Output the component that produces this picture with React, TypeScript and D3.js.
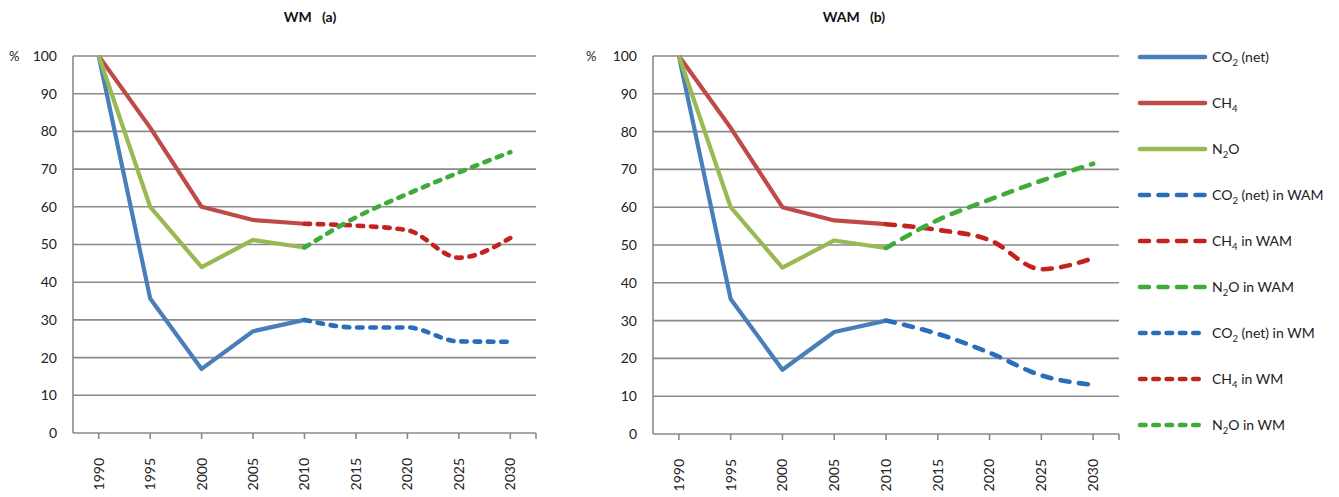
import React from "react";
import * as d3 from "d3";

// Category axis
const years = ["1990", "1995", "2000", "2005", "2010", "2015", "2020", "2025", "2030"];
const histYears = ["1990", "1995", "2000", "2005", "2010"];
const projYears = ["2010", "2015", "2020", "2025", "2030"];
const yTicks = [0, 10, 20, 30, 40, 50, 60, 70, 80, 90, 100];

// Historical emissions, % of 1990
const co2Hist = [100, 35.7, 17, 27, 30];
const ch4Hist = [100, 81, 60, 56.5, 55.5];
const n2oHist = [100, 60, 44, 51.2, 49.2];

// Projections "with measures"
const co2WM = [30, 28, 28, 24.3, 24.2];
const ch4WM = [55.5, 55, 53.8, 46.5, 51.7];
const n2oWM = [49.2, 57.2, 63.4, 69.1, 74.5];

// Projections "with additional measures"
const co2WAM = [30, 26.5, 21.5, 15.5, 13];
const ch4WAM = [55.5, 54, 51.3, 43.6, 46.5];
const n2oWAM = [49.2, 56.6, 62, 67, 71.5];

const FONT = "Lato, 'Open Sans', sans-serif";
const GRID = "#8a8a8a";

const C = {
  co2: "#4a7ebb",
  ch4: "#be4b48",
  n2o: "#98b954",
  co2p: "#2a6ebb",
  ch4p: "#c4221f",
  n2op: "#3fab3b",
};

const DASH_WAM = "9 9.5";
const DASH_WM = "5.5 7.8";

type Series = { years: string[]; values: number[]; color: string; dash?: string; smooth?: boolean };

type PanelProps = {
  x0: number;
  x1: number;
  yTop: number;
  yBottom: number;
  title: string;
  titleX: number;
  pctX: number;
  series: Series[];
};

function Panel({ x0, x1, yTop, yBottom, title, titleX, pctX, series }: PanelProps) {
  const x = d3.scalePoint<string>().domain(years).range([x0, x1]).padding(0.5);
  const y = d3.scaleLinear().domain([0, 100]).range([yBottom, yTop]);
  const tickXs = [...years.map((d) => x(d) as number), x1];

  return (
    <g>
      <text x={titleX} y={22} textAnchor="middle" fontFamily={FONT} fontWeight="bold" fontSize={14} fill="#111" style={{ whiteSpace: "pre" }}>
        {title}
      </text>
      {yTicks.map((t) => (
        <line key={"g" + t} x1={x0} x2={x1} y1={y(t)} y2={y(t)} stroke={GRID} strokeWidth={1.6} />
      ))}
      <line x1={x0} x2={x0} y1={yTop} y2={yBottom} stroke={GRID} strokeWidth={1.6} />
      {tickXs.map((tx, i) => (
        <line key={"t" + i} x1={tx} x2={tx} y1={yBottom} y2={yBottom + 6} stroke={GRID} strokeWidth={1.6} />
      ))}
      {yTicks.map((t) => (
        <text key={"l" + t} x={x0 - 16} y={y(t)} dy="0.35em" textAnchor="end" fontFamily={FONT} fontSize={14} fill="#222">
          {t}
        </text>
      ))}
      <text x={pctX} y={y(100)} dy="0.35em" fontFamily={FONT} fontSize={13} fill="#222">
        %
      </text>
      {years.map((yr) => (
        <text
          key={"y" + yr}
          transform={`translate(${x(yr)},${yBottom + 25}) rotate(-90)`}
          dy="0.35em"
          textAnchor="end"
          fontFamily={FONT}
          fontSize={14}
          fill="#222"
        >
          {yr}
        </text>
      ))}
      {series.map((s, i) => {
        const pts = s.years.map((yr, j) => [x(yr) as number, y(s.values[j])] as [number, number]);
        const gen = d3
          .line<[number, number]>()
          .x((p) => p[0])
          .y((p) => p[1])
          .curve(s.smooth ? d3.curveMonotoneX : d3.curveLinear);
        return (
          <path
            key={"s" + i}
            d={gen(pts) || ""}
            fill="none"
            stroke={s.color}
            strokeWidth={s.dash ? 4.6 : 4.2}
            strokeDasharray={s.dash}
            strokeLinecap={s.dash ? "round" : "butt"}
            strokeLinejoin="round"
          />
        );
      })}
    </g>
  );
}

type LegendItem = { label: React.ReactNode; color: string; dash?: string };

const sub = (s: string) => (
  <tspan fontSize={9.5} dy={4}>
    {s}
  </tspan>
);
const up = (t: string) => <tspan dy={-4}>{t}</tspan>;

const legendItems: LegendItem[] = [
  { label: <>CO{sub("2")}{up(" (net)")}</>, color: C.co2 },
  { label: <>CH{sub("4")}</>, color: C.ch4 },
  { label: <>N{sub("2")}{up("O")}</>, color: C.n2o },
  { label: <>CO{sub("2")}{up(" (net) in WAM")}</>, color: C.co2p, dash: DASH_WAM },
  { label: <>CH{sub("4")}{up(" in WAM")}</>, color: C.ch4p, dash: DASH_WAM },
  { label: <>N{sub("2")}{up("O in WAM")}</>, color: C.n2op, dash: DASH_WAM },
  { label: <>CO{sub("2")}{up(" (net) in WM")}</>, color: C.co2p, dash: DASH_WM },
  { label: <>CH{sub("4")}{up(" in WM")}</>, color: C.ch4p, dash: DASH_WM },
  { label: <>N{sub("2")}{up("O in WM")}</>, color: C.n2op, dash: DASH_WM },
];

export default function App() {
  const hist: Series[] = [
    { years: histYears, values: co2Hist, color: C.co2 },
    { years: histYears, values: ch4Hist, color: C.ch4 },
    { years: histYears, values: n2oHist, color: C.n2o },
  ];
  const wm: Series[] = [
    ...hist,
    { years: projYears, values: co2WM, color: C.co2p, dash: DASH_WM, smooth: true },
    { years: projYears, values: ch4WM, color: C.ch4p, dash: DASH_WM, smooth: true },
    { years: projYears, values: n2oWM, color: C.n2op, dash: DASH_WM, smooth: true },
  ];
  const wam: Series[] = [
    ...hist,
    { years: projYears, values: co2WAM, color: C.co2p, dash: DASH_WAM, smooth: true },
    { years: projYears, values: ch4WAM, color: C.ch4p, dash: DASH_WAM, smooth: true },
    { years: projYears, values: n2oWAM, color: C.n2op, dash: DASH_WAM, smooth: true },
  ];

  const legendY = d3.scaleLinear().domain([0, legendItems.length - 1]).range([57, 425]);

  return (
    <svg width={1339} height={497} style={{ position: "absolute", left: 0, top: 0, display: "block", background: "#fff" }}>
      <Panel x0={73} x1={536} yTop={56} yBottom={433} title={"WM   (a)"} titleX={310} pctX={9} series={wm} />
      <Panel x0={653} x1={1119} yTop={56} yBottom={434} title={"WAM   (b)"} titleX={854} pctX={586} series={wam} />
      {legendItems.map((it, i) => {
        const ly = legendY(i);
        return (
          <g key={"lg" + i}>
            <line
              x1={1140}
              x2={1205}
              y1={ly}
              y2={ly}
              stroke={it.color}
              strokeWidth={4.6}
              strokeDasharray={it.dash}
              strokeLinecap="round"
            />
            <text x={1212} y={ly} dy="0.35em" fontFamily={FONT} fontSize={14} fill="#222" style={{ whiteSpace: "pre" }}>
              {it.label}
            </text>
          </g>
        );
      })}
    </svg>
  );
}
